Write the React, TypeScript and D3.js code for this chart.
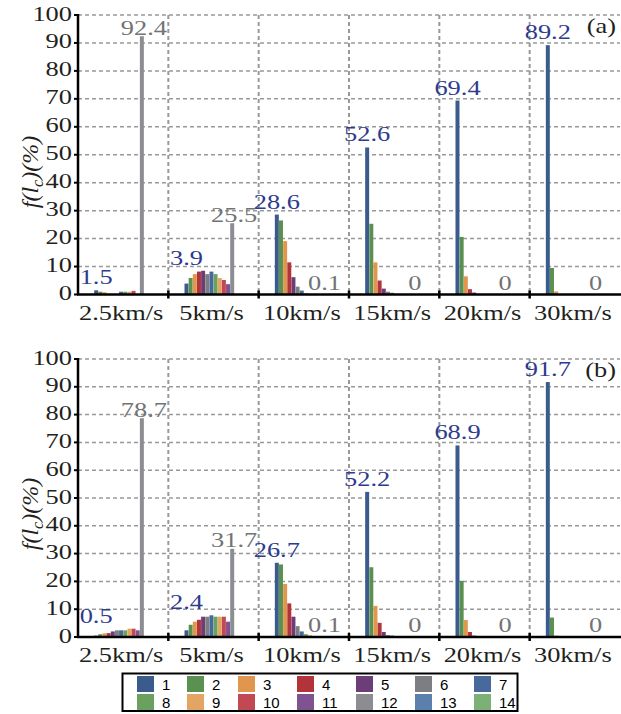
import React from 'react';
import * as d3 from 'd3';

// speed groups on the x axis
const categories = ['2.5km/s', '5km/s', '10km/s', '15km/s', '20km/s', '30km/s'];
const seriesNames = ['1', '2', '3', '4', '5', '6', '7', '8', '9', '10', '11', '12', '13', '14'];
const seriesColors = [
	'#3b5b8d', '#5a9150', '#e0964c', '#b3333b', '#6d3d78', '#7c7e81', '#476a9b',
	'#6aa15e', '#e4a463', '#c24953', '#7f5391', '#8b8d90', '#5b80ad', '#7bb076',
];
const yTicks = [0, 10, 20, 30, 40, 50, 60, 70, 80, 90, 100];

// panel (a): one row per speed, one value per series (%)
const valuesA = [
	[1.5, 1.0, 0.8, 0, 0, 0, 1.0, 1.0, 1.0, 1.3, 0, 92.4, 0, 0],
	[3.9, 5.9, 7.3, 8.2, 8.5, 7.3, 8.2, 7.3, 5.9, 5.2, 3.7, 25.5, 0, 0],
	[28.6, 26.5, 19.1, 11.5, 6.2, 2.8, 1.4, 0.4, 0, 0, 0, 0.1, 0, 0],
	[52.6, 25.3, 11.5, 5.0, 2.1, 1.0, 0.6, 0, 0, 0, 0, 0, 0, 0],
	[69.4, 20.6, 6.5, 1.9, 0.7, 0, 0, 0, 0, 0, 0, 0, 0, 0],
	[89.2, 9.5, 1.1, 0, 0, 0, 0, 0, 0, 0, 0, 0, 0, 0],
];
const firstLabelsA = ['1.5', '3.9', '28.6', '52.6', '69.4', '89.2'];
const lastLabelsA = ['92.4', '25.5', '0.1', '0', '0', '0'];

// panel (b)
const valuesB = [
	[0.5, 1.0, 1.3, 1.4, 2.0, 2.4, 2.4, 2.4, 3.0, 3.0, 2.4, 78.7, 0, 0],
	[2.4, 4.4, 5.5, 6.2, 7.3, 7.3, 7.8, 7.3, 7.3, 7.3, 5.5, 31.7, 0, 0],
	[26.7, 26.1, 19.1, 12.1, 7.3, 3.9, 2.0, 1.0, 0.6, 0, 0, 0.1, 0, 0],
	[52.2, 25.1, 11.2, 5.1, 1.8, 0.7, 0.5, 0, 0, 0, 0, 0, 0, 0],
	[68.9, 20.2, 6.1, 1.8, 0.5, 0, 0, 0, 0, 0, 0, 0, 0, 0],
	[91.7, 7.0, 0.5, 0, 0, 0, 0, 0, 0, 0, 0, 0, 0, 0],
];
const firstLabelsB = ['0.5', '2.4', '26.7', '52.2', '68.9', '91.7'];
const lastLabelsB = ['78.7', '31.7', '0.1', '0', '0', '0'];

const W = 621;
const H = 714;
const left = 78;
const right = 620;
const serif = '"Liberation Serif", "Times New Roman", Times, serif';
const sans = '"Liberation Sans", Arial, Helvetica, sans-serif';
const gridColor = '#999';
const blueText = '#2e3b8e';
const grayText = '#727375';

function Panel({ values, firstLabels, lastLabels, top, bottom, tag, labelY }) {
	const x = d3.scaleBand().domain(categories).range([left, right]).padding(0);
	const innerWidth = 58;
	const inner = d3.scaleBand().domain(seriesNames).range([0, innerWidth]).paddingInner(0.04);
	const y = d3.scaleLinear().domain([0, 100]).range([bottom, top]);
	const groupStart = (c) => x(c) + (x.bandwidth() - innerWidth) / 2;
	const dividers = categories.slice(1).map((c) => x(c));

	return (
		<g>
			{/* grid */}
			{yTicks.slice(1).map((t) => (
				<line key={'h' + t} x1={left} x2={right} y1={y(t)} y2={y(t)} stroke={gridColor} strokeWidth={1.5} strokeDasharray="4 3" />
			))}
			{dividers.map((d, i) => (
				<line key={'v' + i} x1={d} x2={d} y1={top} y2={bottom} stroke={gridColor} strokeWidth={2} strokeDasharray="4 3" />
			))}

			{/* bars */}
			{categories.map((c, ci) => (
				<g key={c} transform={`translate(${groupStart(c)},0)`}>
					{values[ci].map((v, si) => (
						<rect
							key={si}
							x={inner(seriesNames[si])}
							width={inner.bandwidth()}
							y={y(v)}
							height={bottom - y(v)}
							fill={seriesColors[si]}
						/>
					))}
				</g>
			))}

			{/* value labels */}
			{categories.map((c, ci) => {
				const g0 = groupStart(c);
				const peak = d3.max(values[ci].slice(0, 11));
				const x1 = g0 + inner(seriesNames[0]) + inner.bandwidth() / 2;
				const x12 = g0 + inner(seriesNames[11]) + inner.bandwidth() / 2;
				const v12 = values[ci][11];
				return (
					<g key={'lab' + c}>
						<text transform={`translate(${x1},${y(peak) - 6}) scale(1.2,1)`} textAnchor="middle" fontFamily={serif} fontSize={22} fill={blueText}>
							{firstLabels[ci]}
						</text>
						<text transform={`translate(${x12 + 2},${Math.min(y(v12) - 1.5, bottom - 5)}) scale(1.2,1)`} textAnchor="middle" fontFamily={serif} fontSize={22} fill={grayText}>
							{lastLabels[ci]}
						</text>
					</g>
				);
			})}

			{/* axes */}
			<line x1={left} x2={left} y1={top - 1} y2={bottom} stroke="#000" strokeWidth={2.5} />
			<line x1={left - 1} x2={right + 1} y1={bottom} y2={bottom} stroke="#000" strokeWidth={2.5} />
			{yTicks.map((t) => (
				<g key={'yt' + t}>
					<line x1={left - 4} x2={left} y1={y(t)} y2={y(t)} stroke="#000" strokeWidth={2} />
					<text transform={`translate(${left - 6},${y(t) + 5.5}) scale(1.2,1)`} textAnchor="end" fontFamily={serif} fontSize={22} fill="#231f20">
						{t}
					</text>
				</g>
			))}
			{dividers.map((d, i) => (
				<line key={'xt' + i} x1={d} x2={d} y1={bottom - 4} y2={bottom + 4} stroke="#000" strokeWidth={2.5} />
			))}
			{categories.map((c) => (
				<text key={'xl' + c} transform={`translate(${x(c) + x.bandwidth() / 2 - 2},${bottom + 25}) scale(1.2,1)`} textAnchor="middle" fontFamily={serif} fontSize={22} fill="#231f20">
					{c}
				</text>
			))}

			{/* y title */}
			<text transform={`translate(38,${labelY}) rotate(-90)`} textAnchor="middle" fontFamily={serif} fontStyle="italic" fontSize={24} fill="#231f20">
				f(l
				<tspan fontSize={16} dy={5}>c</tspan>
				<tspan dy={-5}>)(%)</tspan>
			</text>

			<text transform={`translate(616,${top + 18}) scale(1.2,1)`} textAnchor="end" fontFamily={serif} fontSize={22} fill="#231f20">
				{tag}
			</text>
		</g>
	);
}

function Legend() {
	const x0 = 137;
	const colWidths = [50, 51, 59, 59, 59, 59, 59];
	const colX = colWidths.map((_, i) => x0 + d3.sum(colWidths.slice(0, i)));
	const rows = [676, 694];
	return (
		<g>
			<rect x={122.5} y={673.5} width={395} height={37.5} fill="#fff" stroke="#000" strokeWidth={2} />
			{seriesNames.map((s, i) => {
				const col = i % 7;
				const row = Math.floor(i / 7);
				return (
					<g key={s}>
						<rect x={colX[col]} y={rows[row]} width={17} height={16} fill={seriesColors[i]} />
						<text x={colX[col] + 25} y={rows[row] + 13.5} fontFamily={sans} fontSize={15} fill="#000">
							{s}
						</text>
					</g>
				);
			})}
		</g>
	);
}

export default function App() {
	return (
		<svg width={W} height={H} style={{ position: 'absolute', left: 0, top: 0, background: '#fff' }}>
			<Panel values={valuesA} firstLabels={firstLabelsA} lastLabels={lastLabelsA} top={15} bottom={294.5} tag="(a)" labelY={172} />
			<Panel values={valuesB} firstLabels={firstLabelsB} lastLabels={lastLabelsB} top={359} bottom={637} tag="(b)" labelY={514} />
			<Legend />
		</svg>
	);
}
